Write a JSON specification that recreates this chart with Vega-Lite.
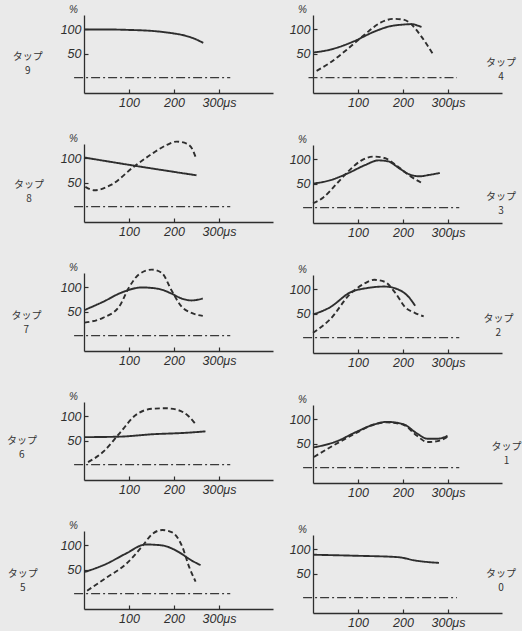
{
"$schema": "https://vega.github.io/schema/vega-lite/v6.json",
"background": "#eaeaea",
"padding": {"left": 6, "top": 4, "right": 12, "bottom": 2},
"data": {"values": [
{"tap":"9","s":"solid","t":0,"v":100},{"tap":"9","s":"solid","t":50,"v":100},{"tap":"9","s":"solid","t":100,"v":99},{"tap":"9","s":"solid","t":150,"v":97},{"tap":"9","s":"solid","t":190,"v":93},{"tap":"9","s":"solid","t":225,"v":87},{"tap":"9","s":"solid","t":250,"v":79},{"tap":"9","s":"solid","t":265,"v":72},
{"tap":"4","s":"solid","t":0,"v":52},{"tap":"4","s":"solid","t":38,"v":58},{"tap":"4","s":"solid","t":90,"v":75},{"tap":"4","s":"solid","t":135,"v":95},{"tap":"4","s":"solid","t":173,"v":107},{"tap":"4","s":"solid","t":199,"v":110},{"tap":"4","s":"solid","t":218,"v":111},{"tap":"4","s":"solid","t":241,"v":105},
{"tap":"4","s":"dashed","t":8,"v":14},{"tap":"4","s":"dashed","t":38,"v":31},{"tap":"4","s":"dashed","t":75,"v":58},{"tap":"4","s":"dashed","t":113,"v":88},{"tap":"4","s":"dashed","t":150,"v":114},{"tap":"4","s":"dashed","t":180,"v":122},{"tap":"4","s":"dashed","t":203,"v":120},{"tap":"4","s":"dashed","t":218,"v":111},{"tap":"4","s":"dashed","t":241,"v":85},{"tap":"4","s":"dashed","t":267,"v":48},
{"tap":"8","s":"solid","t":0,"v":102},{"tap":"8","s":"solid","t":125,"v":83},{"tap":"8","s":"solid","t":250,"v":65},
{"tap":"8","s":"dashed","t":3,"v":41},{"tap":"8","s":"dashed","t":23,"v":34},{"tap":"8","s":"dashed","t":60,"v":45},{"tap":"8","s":"dashed","t":111,"v":83},{"tap":"8","s":"dashed","t":147,"v":107},{"tap":"8","s":"dashed","t":184,"v":128},{"tap":"8","s":"dashed","t":206,"v":135},{"tap":"8","s":"dashed","t":228,"v":131},{"tap":"8","s":"dashed","t":242,"v":117},{"tap":"8","s":"dashed","t":248,"v":103},
{"tap":"3","s":"solid","t":2,"v":50},{"tap":"3","s":"solid","t":39,"v":57},{"tap":"3","s":"solid","t":77,"v":71},{"tap":"3","s":"solid","t":115,"v":88},{"tap":"3","s":"solid","t":145,"v":98},{"tap":"3","s":"solid","t":167,"v":96},{"tap":"3","s":"solid","t":191,"v":82},{"tap":"3","s":"solid","t":214,"v":69},{"tap":"3","s":"solid","t":236,"v":65},{"tap":"3","s":"solid","t":259,"v":68},{"tap":"3","s":"solid","t":282,"v":72},
{"tap":"3","s":"dashed","t":0,"v":9},{"tap":"3","s":"dashed","t":23,"v":21},{"tap":"3","s":"dashed","t":53,"v":50},{"tap":"3","s":"dashed","t":77,"v":74},{"tap":"3","s":"dashed","t":106,"v":97},{"tap":"3","s":"dashed","t":136,"v":106},{"tap":"3","s":"dashed","t":159,"v":103},{"tap":"3","s":"dashed","t":189,"v":85},{"tap":"3","s":"dashed","t":212,"v":68},{"tap":"3","s":"dashed","t":242,"v":51},
{"tap":"7","s":"solid","t":1,"v":53},{"tap":"7","s":"solid","t":42,"v":70},{"tap":"7","s":"solid","t":85,"v":90},{"tap":"7","s":"solid","t":129,"v":100},{"tap":"7","s":"solid","t":166,"v":97},{"tap":"7","s":"solid","t":195,"v":87},{"tap":"7","s":"solid","t":217,"v":77},{"tap":"7","s":"solid","t":239,"v":73},{"tap":"7","s":"solid","t":264,"v":77},
{"tap":"7","s":"dashed","t":1,"v":27},{"tap":"7","s":"dashed","t":42,"v":37},{"tap":"7","s":"dashed","t":78,"v":60},{"tap":"7","s":"dashed","t":100,"v":100},{"tap":"7","s":"dashed","t":122,"v":127},{"tap":"7","s":"dashed","t":151,"v":137},{"tap":"7","s":"dashed","t":173,"v":130},{"tap":"7","s":"dashed","t":195,"v":93},{"tap":"7","s":"dashed","t":217,"v":60},{"tap":"7","s":"dashed","t":239,"v":47},{"tap":"7","s":"dashed","t":264,"v":41},
{"tap":"2","s":"solid","t":0,"v":48},{"tap":"2","s":"solid","t":38,"v":63},{"tap":"2","s":"solid","t":83,"v":94},{"tap":"2","s":"solid","t":121,"v":103},{"tap":"2","s":"solid","t":159,"v":106},{"tap":"2","s":"solid","t":189,"v":100},{"tap":"2","s":"solid","t":212,"v":85},{"tap":"2","s":"solid","t":227,"v":66},
{"tap":"2","s":"dashed","t":0,"v":10},{"tap":"2","s":"dashed","t":38,"v":38},{"tap":"2","s":"dashed","t":83,"v":91},{"tap":"2","s":"dashed","t":114,"v":112},{"tap":"2","s":"dashed","t":136,"v":120},{"tap":"2","s":"dashed","t":159,"v":116},{"tap":"2","s":"dashed","t":182,"v":94},{"tap":"2","s":"dashed","t":205,"v":63},{"tap":"2","s":"dashed","t":227,"v":51},{"tap":"2","s":"dashed","t":246,"v":44},
{"tap":"6","s":"solid","t":1,"v":57},{"tap":"6","s":"solid","t":79,"v":58},{"tap":"6","s":"solid","t":152,"v":63},{"tap":"6","s":"solid","t":226,"v":66},{"tap":"6","s":"solid","t":270,"v":69},
{"tap":"6","s":"dashed","t":9,"v":5},{"tap":"6","s":"dashed","t":42,"v":26},{"tap":"6","s":"dashed","t":79,"v":65},{"tap":"6","s":"dashed","t":115,"v":103},{"tap":"6","s":"dashed","t":152,"v":116},{"tap":"6","s":"dashed","t":181,"v":117},{"tap":"6","s":"dashed","t":210,"v":113},{"tap":"6","s":"dashed","t":233,"v":100},{"tap":"6","s":"dashed","t":248,"v":84},
{"tap":"1","s":"solid","t":2,"v":42},{"tap":"1","s":"solid","t":51,"v":54},{"tap":"1","s":"solid","t":96,"v":74},{"tap":"1","s":"solid","t":134,"v":89},{"tap":"1","s":"solid","t":164,"v":95},{"tap":"1","s":"solid","t":201,"v":90},{"tap":"1","s":"solid","t":231,"v":71},{"tap":"1","s":"solid","t":254,"v":60},{"tap":"1","s":"solid","t":277,"v":60},{"tap":"1","s":"solid","t":299,"v":66},
{"tap":"1","s":"dashed","t":2,"v":22},{"tap":"1","s":"dashed","t":51,"v":49},{"tap":"1","s":"dashed","t":96,"v":72},{"tap":"1","s":"dashed","t":134,"v":89},{"tap":"1","s":"dashed","t":164,"v":94},{"tap":"1","s":"dashed","t":201,"v":89},{"tap":"1","s":"dashed","t":231,"v":66},{"tap":"1","s":"dashed","t":254,"v":53},{"tap":"1","s":"dashed","t":277,"v":55},{"tap":"1","s":"dashed","t":299,"v":64},
{"tap":"5","s":"solid","t":2,"v":45},{"tap":"5","s":"solid","t":48,"v":61},{"tap":"5","s":"solid","t":93,"v":83},{"tap":"5","s":"solid","t":137,"v":102},{"tap":"5","s":"solid","t":174,"v":100},{"tap":"5","s":"solid","t":211,"v":86},{"tap":"5","s":"solid","t":237,"v":70},{"tap":"5","s":"solid","t":259,"v":59},
{"tap":"5","s":"dashed","t":7,"v":6},{"tap":"5","s":"dashed","t":48,"v":32},{"tap":"5","s":"dashed","t":93,"v":61},{"tap":"5","s":"dashed","t":130,"v":99},{"tap":"5","s":"dashed","t":152,"v":124},{"tap":"5","s":"dashed","t":174,"v":132},{"tap":"5","s":"dashed","t":196,"v":127},{"tap":"5","s":"dashed","t":219,"v":96},{"tap":"5","s":"dashed","t":233,"v":57},{"tap":"5","s":"dashed","t":248,"v":25},
{"tap":"0","s":"solid","t":0,"v":89},{"tap":"0","s":"solid","t":91,"v":87},{"tap":"0","s":"solid","t":189,"v":84},{"tap":"0","s":"solid","t":227,"v":77},{"tap":"0","s":"solid","t":280,"v":72}
]},
"spacing": 16,
"hconcat": [
{"spacing": 24, "vconcat": [
{"width":189,"height":78,"layer":[
 {"transform":[{"filter":"datum.tap == '9'"}],"mark":{"type":"line","interpolate":"monotone","strokeWidth":1.9,"color":"#2e2e2e"},"encoding":{"x":{"field":"t","type":"quantitative","scale":{"domain":[0,420],"nice":false,"zero":false},"axis":{"values":[100,200,300],"labelExpr":"datum.value == 300 ? '300μs' : datum.label","title":null}},"y":{"field":"v","type":"quantitative","scale":{"domain":[-32,130],"nice":false,"zero":false},"axis":{"values":[50,100],"title":"%"}},"strokeDash":{"field":"s","type":"nominal","scale":{"domain":["solid","dashed"],"range":[[1,0],[5,3]]},"legend":null}}},
 {"data":{"values":[{}]},"mark":{"type":"rule","strokeDash":[9,3,2,3],"strokeWidth":1.2,"color":"#3a3a3a"},"encoding":{"x":{"datum":-22,"type":"quantitative","scale":{"domain":[0,420],"nice":false,"zero":false}},"x2":{"datum":325},"y":{"datum":0,"type":"quantitative","scale":{"domain":[-32,130],"nice":false,"zero":false}}}},
 {"data":{"values":[{}]},"mark":{"type":"text","lineBreak":"\n","lineHeight":14,"font":"Noto Sans CJK JP","fontSize":10,"color":"#333"},"encoding":{"x":{"datum":-125,"type":"quantitative","scale":{"domain":[0,420],"nice":false,"zero":false}},"y":{"datum":42,"type":"quantitative","scale":{"domain":[-32,130],"nice":false,"zero":false}},"text":{"value":"タップ\n9"}}}
]},
{"width":189,"height":78,"layer":[
 {"transform":[{"filter":"datum.tap == '8'"}],"mark":{"type":"line","interpolate":"monotone","strokeWidth":1.9,"color":"#2e2e2e"},"encoding":{"x":{"field":"t","type":"quantitative","scale":{"domain":[0,420],"nice":false,"zero":false},"axis":{"values":[100,200,300],"labelExpr":"datum.value == 300 ? '300μs' : datum.label","title":null}},"y":{"field":"v","type":"quantitative","scale":{"domain":[-32,130],"nice":false,"zero":false},"axis":{"values":[50,100],"title":"%"}},"strokeDash":{"field":"s","type":"nominal","scale":{"domain":["solid","dashed"],"range":[[1,0],[5,3]]},"legend":null}}},
 {"data":{"values":[{}]},"mark":{"type":"rule","strokeDash":[9,3,2,3],"strokeWidth":1.2,"color":"#3a3a3a"},"encoding":{"x":{"datum":-22,"type":"quantitative","scale":{"domain":[0,420],"nice":false,"zero":false}},"x2":{"datum":325},"y":{"datum":0,"type":"quantitative","scale":{"domain":[-32,130],"nice":false,"zero":false}}}},
 {"data":{"values":[{}]},"mark":{"type":"text","lineBreak":"\n","lineHeight":14,"font":"Noto Sans CJK JP","fontSize":10,"color":"#333"},"encoding":{"x":{"datum":-122,"type":"quantitative","scale":{"domain":[0,420],"nice":false,"zero":false}},"y":{"datum":44,"type":"quantitative","scale":{"domain":[-32,130],"nice":false,"zero":false}},"text":{"value":"タップ\n8"}}}
]},
{"width":189,"height":78,"layer":[
 {"transform":[{"filter":"datum.tap == '7'"}],"mark":{"type":"line","interpolate":"monotone","strokeWidth":1.9,"color":"#2e2e2e"},"encoding":{"x":{"field":"t","type":"quantitative","scale":{"domain":[0,420],"nice":false,"zero":false},"axis":{"values":[100,200,300],"labelExpr":"datum.value == 300 ? '300μs' : datum.label","title":null}},"y":{"field":"v","type":"quantitative","scale":{"domain":[-32,130],"nice":false,"zero":false},"axis":{"values":[50,100],"title":"%"}},"strokeDash":{"field":"s","type":"nominal","scale":{"domain":["solid","dashed"],"range":[[1,0],[5,3]]},"legend":null}}},
 {"data":{"values":[{}]},"mark":{"type":"rule","strokeDash":[9,3,2,3],"strokeWidth":1.2,"color":"#3a3a3a"},"encoding":{"x":{"datum":-22,"type":"quantitative","scale":{"domain":[0,420],"nice":false,"zero":false}},"x2":{"datum":325},"y":{"datum":0,"type":"quantitative","scale":{"domain":[-32,130],"nice":false,"zero":false}}}},
 {"data":{"values":[{}]},"mark":{"type":"text","lineBreak":"\n","lineHeight":14,"font":"Noto Sans CJK JP","fontSize":10,"color":"#333"},"encoding":{"x":{"datum":-128,"type":"quantitative","scale":{"domain":[0,420],"nice":false,"zero":false}},"y":{"datum":40,"type":"quantitative","scale":{"domain":[-32,130],"nice":false,"zero":false}},"text":{"value":"タップ\n7"}}}
]},
{"width":189,"height":78,"layer":[
 {"transform":[{"filter":"datum.tap == '6'"}],"mark":{"type":"line","interpolate":"monotone","strokeWidth":1.9,"color":"#2e2e2e"},"encoding":{"x":{"field":"t","type":"quantitative","scale":{"domain":[0,420],"nice":false,"zero":false},"axis":{"values":[100,200,300],"labelExpr":"datum.value == 300 ? '300μs' : datum.label","title":null}},"y":{"field":"v","type":"quantitative","scale":{"domain":[-32,130],"nice":false,"zero":false},"axis":{"values":[50,100],"title":"%"}},"strokeDash":{"field":"s","type":"nominal","scale":{"domain":["solid","dashed"],"range":[[1,0],[5,3]]},"legend":null}}},
 {"data":{"values":[{}]},"mark":{"type":"rule","strokeDash":[9,3,2,3],"strokeWidth":1.2,"color":"#3a3a3a"},"encoding":{"x":{"datum":-22,"type":"quantitative","scale":{"domain":[0,420],"nice":false,"zero":false}},"x2":{"datum":325},"y":{"datum":0,"type":"quantitative","scale":{"domain":[-32,130],"nice":false,"zero":false}}}},
 {"data":{"values":[{}]},"mark":{"type":"text","lineBreak":"\n","lineHeight":14,"font":"Noto Sans CJK JP","fontSize":10,"color":"#333"},"encoding":{"x":{"datum":-138,"type":"quantitative","scale":{"domain":[0,420],"nice":false,"zero":false}},"y":{"datum":50,"type":"quantitative","scale":{"domain":[-32,130],"nice":false,"zero":false}},"text":{"value":"タップ\n6"}}}
]},
{"width":189,"height":78,"layer":[
 {"transform":[{"filter":"datum.tap == '5'"}],"mark":{"type":"line","interpolate":"monotone","strokeWidth":1.9,"color":"#2e2e2e"},"encoding":{"x":{"field":"t","type":"quantitative","scale":{"domain":[0,420],"nice":false,"zero":false},"axis":{"values":[100,200,300],"labelExpr":"datum.value == 300 ? '300μs' : datum.label","title":null}},"y":{"field":"v","type":"quantitative","scale":{"domain":[-32,130],"nice":false,"zero":false},"axis":{"values":[50,100],"title":"%"}},"strokeDash":{"field":"s","type":"nominal","scale":{"domain":["solid","dashed"],"range":[[1,0],[5,3]]},"legend":null}}},
 {"data":{"values":[{}]},"mark":{"type":"rule","strokeDash":[9,3,2,3],"strokeWidth":1.2,"color":"#3a3a3a"},"encoding":{"x":{"datum":-22,"type":"quantitative","scale":{"domain":[0,420],"nice":false,"zero":false}},"x2":{"datum":325},"y":{"datum":0,"type":"quantitative","scale":{"domain":[-32,130],"nice":false,"zero":false}}}},
 {"data":{"values":[{}]},"mark":{"type":"text","lineBreak":"\n","lineHeight":14,"font":"Noto Sans CJK JP","fontSize":10,"color":"#333"},"encoding":{"x":{"datum":-136,"type":"quantitative","scale":{"domain":[0,420],"nice":false,"zero":false}},"y":{"datum":40,"type":"quantitative","scale":{"domain":[-32,130],"nice":false,"zero":false}},"text":{"value":"タップ\n5"}}}
]}
]},
{"spacing": 25, "vconcat": [
{"width":189,"height":78,"layer":[
 {"transform":[{"filter":"datum.tap == '4'"}],"mark":{"type":"line","interpolate":"monotone","strokeWidth":1.9,"color":"#2e2e2e"},"encoding":{"x":{"field":"t","type":"quantitative","scale":{"domain":[0,420],"nice":false,"zero":false},"axis":{"values":[100,200,300],"labelExpr":"datum.value == 300 ? '300μs' : datum.label","title":null}},"y":{"field":"v","type":"quantitative","scale":{"domain":[-32,130],"nice":false,"zero":false},"axis":{"values":[50,100],"title":"%"}},"strokeDash":{"field":"s","type":"nominal","scale":{"domain":["solid","dashed"],"range":[[1,0],[5,3]]},"legend":null}}},
 {"data":{"values":[{}]},"mark":{"type":"rule","strokeDash":[9,3,2,3],"strokeWidth":1.2,"color":"#3a3a3a"},"encoding":{"x":{"datum":-10,"type":"quantitative","scale":{"domain":[0,420],"nice":false,"zero":false}},"x2":{"datum":320},"y":{"datum":0,"type":"quantitative","scale":{"domain":[-32,130],"nice":false,"zero":false}}}},
 {"data":{"values":[{}]},"mark":{"type":"text","lineBreak":"\n","lineHeight":14,"font":"Noto Sans CJK JP","fontSize":10,"color":"#333"},"encoding":{"x":{"datum":418,"type":"quantitative","scale":{"domain":[0,420],"nice":false,"zero":false}},"y":{"datum":31,"type":"quantitative","scale":{"domain":[-32,130],"nice":false,"zero":false}},"text":{"value":"タップ\n4"}}}
]},
{"width":189,"height":78,"layer":[
 {"transform":[{"filter":"datum.tap == '3'"}],"mark":{"type":"line","interpolate":"monotone","strokeWidth":1.9,"color":"#2e2e2e"},"encoding":{"x":{"field":"t","type":"quantitative","scale":{"domain":[0,420],"nice":false,"zero":false},"axis":{"values":[100,200,300],"labelExpr":"datum.value == 300 ? '300μs' : datum.label","title":null}},"y":{"field":"v","type":"quantitative","scale":{"domain":[-32,130],"nice":false,"zero":false},"axis":{"values":[50,100],"title":"%"}},"strokeDash":{"field":"s","type":"nominal","scale":{"domain":["solid","dashed"],"range":[[1,0],[5,3]]},"legend":null}}},
 {"data":{"values":[{}]},"mark":{"type":"rule","strokeDash":[9,3,2,3],"strokeWidth":1.2,"color":"#3a3a3a"},"encoding":{"x":{"datum":-22,"type":"quantitative","scale":{"domain":[0,420],"nice":false,"zero":false}},"x2":{"datum":325},"y":{"datum":0,"type":"quantitative","scale":{"domain":[-32,130],"nice":false,"zero":false}}}},
 {"data":{"values":[{}]},"mark":{"type":"text","lineBreak":"\n","lineHeight":14,"font":"Noto Sans CJK JP","fontSize":10,"color":"#333"},"encoding":{"x":{"datum":418,"type":"quantitative","scale":{"domain":[0,420],"nice":false,"zero":false}},"y":{"datum":22,"type":"quantitative","scale":{"domain":[-32,130],"nice":false,"zero":false}},"text":{"value":"タップ\n3"}}}
]},
{"width":189,"height":78,"layer":[
 {"transform":[{"filter":"datum.tap == '2'"}],"mark":{"type":"line","interpolate":"monotone","strokeWidth":1.9,"color":"#2e2e2e"},"encoding":{"x":{"field":"t","type":"quantitative","scale":{"domain":[0,420],"nice":false,"zero":false},"axis":{"values":[100,200,300],"labelExpr":"datum.value == 300 ? '300μs' : datum.label","title":null}},"y":{"field":"v","type":"quantitative","scale":{"domain":[-32,130],"nice":false,"zero":false},"axis":{"values":[50,100],"title":"%"}},"strokeDash":{"field":"s","type":"nominal","scale":{"domain":["solid","dashed"],"range":[[1,0],[5,3]]},"legend":null}}},
 {"data":{"values":[{}]},"mark":{"type":"rule","strokeDash":[9,3,2,3],"strokeWidth":1.2,"color":"#3a3a3a"},"encoding":{"x":{"datum":-22,"type":"quantitative","scale":{"domain":[0,420],"nice":false,"zero":false}},"x2":{"datum":325},"y":{"datum":0,"type":"quantitative","scale":{"domain":[-32,130],"nice":false,"zero":false}}}},
 {"data":{"values":[{}]},"mark":{"type":"text","lineBreak":"\n","lineHeight":14,"font":"Noto Sans CJK JP","fontSize":10,"color":"#333"},"encoding":{"x":{"datum":412,"type":"quantitative","scale":{"domain":[0,420],"nice":false,"zero":false}},"y":{"datum":39,"type":"quantitative","scale":{"domain":[-32,130],"nice":false,"zero":false}},"text":{"value":"タップ\n2"}}}
]},
{"width":189,"height":78,"layer":[
 {"transform":[{"filter":"datum.tap == '1'"}],"mark":{"type":"line","interpolate":"monotone","strokeWidth":1.9,"color":"#2e2e2e"},"encoding":{"x":{"field":"t","type":"quantitative","scale":{"domain":[0,420],"nice":false,"zero":false},"axis":{"values":[100,200,300],"labelExpr":"datum.value == 300 ? '300μs' : datum.label","title":null}},"y":{"field":"v","type":"quantitative","scale":{"domain":[-32,130],"nice":false,"zero":false},"axis":{"values":[50,100],"title":"%"}},"strokeDash":{"field":"s","type":"nominal","scale":{"domain":["solid","dashed"],"range":[[1,0],[5,3]]},"legend":null}}},
 {"data":{"values":[{}]},"mark":{"type":"rule","strokeDash":[9,3,2,3],"strokeWidth":1.2,"color":"#3a3a3a"},"encoding":{"x":{"datum":-22,"type":"quantitative","scale":{"domain":[0,420],"nice":false,"zero":false}},"x2":{"datum":325},"y":{"datum":0,"type":"quantitative","scale":{"domain":[-32,130],"nice":false,"zero":false}}}},
 {"data":{"values":[{}]},"mark":{"type":"text","lineBreak":"\n","lineHeight":14,"font":"Noto Sans CJK JP","fontSize":10,"color":"#333"},"encoding":{"x":{"datum":430,"type":"quantitative","scale":{"domain":[0,420],"nice":false,"zero":false}},"y":{"datum":42,"type":"quantitative","scale":{"domain":[-32,130],"nice":false,"zero":false}},"text":{"value":"タップ\n1"}}}
]},
{"width":189,"height":78,"layer":[
 {"transform":[{"filter":"datum.tap == '0'"}],"mark":{"type":"line","interpolate":"monotone","strokeWidth":1.9,"color":"#2e2e2e"},"encoding":{"x":{"field":"t","type":"quantitative","scale":{"domain":[0,420],"nice":false,"zero":false},"axis":{"values":[100,200,300],"labelExpr":"datum.value == 300 ? '300μs' : datum.label","title":null}},"y":{"field":"v","type":"quantitative","scale":{"domain":[-32,130],"nice":false,"zero":false},"axis":{"values":[50,100],"title":"%"}},"strokeDash":{"field":"s","type":"nominal","scale":{"domain":["solid","dashed"],"range":[[1,0],[5,3]]},"legend":null}}},
 {"data":{"values":[{}]},"mark":{"type":"rule","strokeDash":[9,3,2,3],"strokeWidth":1.2,"color":"#3a3a3a"},"encoding":{"x":{"datum":-22,"type":"quantitative","scale":{"domain":[0,420],"nice":false,"zero":false}},"x2":{"datum":320},"y":{"datum":0,"type":"quantitative","scale":{"domain":[-32,130],"nice":false,"zero":false}}}},
 {"data":{"values":[{}]},"mark":{"type":"text","lineBreak":"\n","lineHeight":14,"font":"Noto Sans CJK JP","fontSize":10,"color":"#333"},"encoding":{"x":{"datum":418,"type":"quantitative","scale":{"domain":[0,420],"nice":false,"zero":false}},"y":{"datum":48,"type":"quantitative","scale":{"domain":[-32,130],"nice":false,"zero":false}},"text":{"value":"タップ\n0"}}}
]}
]}
],
"config": {
 "view": {"stroke": null},
 "axis": {"grid": false, "domainColor": "#2e2e2e", "domainWidth": 1.3, "tickColor": "#2e2e2e", "tickWidth": 1.2, "tickSize": -4, "labelFont": "Liberation Sans", "labelFontStyle": "italic", "labelFontSize": 12.5, "labelColor": "#2e2e2e", "labelPadding": 7},
 "axisY": {"titleAngle": 0, "titleX": -11, "titleY": -1, "titleAlign": "center", "titleBaseline": "bottom", "titleFont": "Liberation Sans", "titleFontSize": 10, "titleFontWeight": "normal", "titleFontStyle": "italic", "titleColor": "#2e2e2e"}
}
}
